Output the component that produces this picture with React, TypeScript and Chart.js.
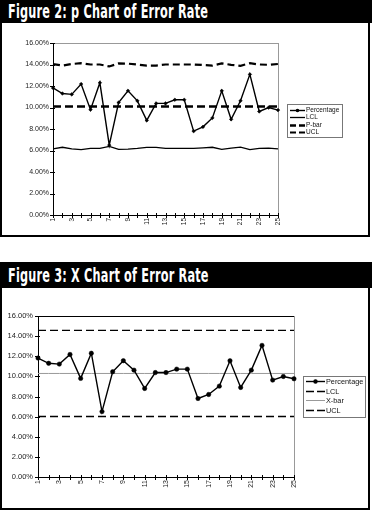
import React, { useEffect, useRef } from "react";
import { Chart, registerables } from "chart.js";
Chart.register(...registerables);

// ---------- data ----------
const samples = ["1","2","3","4","5","6","7","8","9","10","11","12","13","14","15","16","17","18","19","20","21","22","23","24","25"];
const yTickValues = [0, 2, 4, 6, 8, 10, 12, 14, 16];

const percentage = [11.82, 11.3, 11.22, 12.18, 9.8, 12.3, 6.5, 10.46, 11.56, 10.62, 8.8, 10.38, 10.38, 10.72, 10.72, 7.8, 8.2, 9.03, 11.55, 8.9, 10.62, 13.08, 9.63, 9.99, 9.76];

// Figure 2 (p chart)
const pLCL = [6.16, 6.3, 6.15, 6.08, 6.2, 6.2, 6.38, 6.1, 6.12, 6.2, 6.3, 6.3, 6.2, 6.2, 6.2, 6.2, 6.25, 6.3, 6.1, 6.23, 6.32, 6.08, 6.2, 6.23, 6.15];
const pBar = [10.1, 10.1, 10.1, 10.1, 10.1, 10.1, 10.1, 10.1, 10.1, 10.1, 10.1, 10.1, 10.1, 10.1, 10.1, 10.1, 10.1, 10.1, 10.1, 10.1, 10.1, 10.1, 10.1, 10.1, 10.1];
const pUCL = [14.04, 13.9, 14.05, 14.12, 14.0, 14.0, 13.82, 14.1, 14.08, 14.0, 13.9, 13.9, 14.0, 14.0, 14.0, 14.0, 13.95, 13.9, 14.1, 13.97, 13.88, 14.12, 14.0, 13.97, 14.05];

// Figure 3 (X chart)
const xLCL = [6.01, 6.01, 6.01, 6.01, 6.01, 6.01, 6.01, 6.01, 6.01, 6.01, 6.01, 6.01, 6.01, 6.01, 6.01, 6.01, 6.01, 6.01, 6.01, 6.01, 6.01, 6.01, 6.01, 6.01, 6.01];
const xBar = [10.29, 10.29, 10.29, 10.29, 10.29, 10.29, 10.29, 10.29, 10.29, 10.29, 10.29, 10.29, 10.29, 10.29, 10.29, 10.29, 10.29, 10.29, 10.29, 10.29, 10.29, 10.29, 10.29, 10.29, 10.29];
const xUCL = [14.57, 14.57, 14.57, 14.57, 14.57, 14.57, 14.57, 14.57, 14.57, 14.57, 14.57, 14.57, 14.57, 14.57, 14.57, 14.57, 14.57, 14.57, 14.57, 14.57, 14.57, 14.57, 14.57, 14.57, 14.57];

const FONT = "'Liberation Sans', Arial, sans-serif";

// ---------- plugins ----------
const crossTicks = {
  id: "crossTicks",
  afterDraw(chart: any) {
    const { ctx, chartArea: a, scales } = chart;
    const x = scales.x, y = scales.y;
    ctx.save();
    ctx.strokeStyle = "#000";
    ctx.lineWidth = 1;
    ctx.beginPath();
    for (let i = 0; i < x.ticks.length; i++) {
      const px = Math.round(x.getPixelForTick(i)) + 0.5;
      ctx.moveTo(px, a.bottom - 2);
      ctx.lineTo(px, a.bottom + 3);
    }
    for (let i = 0; i < y.ticks.length; i++) {
      const py = Math.round(y.getPixelForTick(i)) + 0.5;
      ctx.moveTo(a.left - 3, py);
      ctx.lineTo(a.left + 2, py);
    }
    ctx.stroke();
    ctx.restore();
  },
};

const frame = {
  id: "frame",
  beforeDatasetsDraw(chart: any, _args: any, opts: any) {
    const { ctx, chartArea: a } = chart;
    ctx.save();
    ctx.lineWidth = 1;
    ctx.strokeStyle = opts.topColor;
    ctx.beginPath();
    ctx.moveTo(a.left, Math.round(a.top) + 0.5);
    ctx.lineTo(a.right, Math.round(a.top) + 0.5);
    ctx.stroke();
    ctx.strokeStyle = opts.rightColor;
    ctx.beginPath();
    ctx.moveTo(Math.round(a.right) + 0.5, a.top);
    ctx.lineTo(Math.round(a.right) + 0.5, a.bottom);
    ctx.stroke();
    ctx.restore();
  },
};

const boxLegend = {
  id: "boxLegend",
  afterDraw(chart: any, _args: any, o: any) {
    const { ctx } = chart;
    ctx.save();
    ctx.fillStyle = "#fff";
    ctx.fillRect(o.x, o.y, o.w, o.h);
    ctx.strokeStyle = "#777";
    ctx.lineWidth = 1;
    ctx.strokeRect(o.x + 0.5, o.y + 0.5, o.w, o.h);
    ctx.font = `${o.fontSize}px ${FONT}`;
    ctx.textBaseline = "middle";
    ctx.textAlign = "left";
    chart.data.datasets.forEach((ds: any, i: number) => {
      const ry = Math.round(o.firstRow + i * o.rowH) + 0.5;
      ctx.save();
      ctx.strokeStyle = ds.borderColor;
      ctx.lineWidth = ds.borderWidth;
      ctx.setLineDash(ds.legendDash || ds.borderDash || []);
      ctx.beginPath();
      ctx.moveTo(o.sampleX, ry);
      ctx.lineTo(o.sampleX + o.sampleW, ry);
      ctx.stroke();
      ctx.restore();
      if (ds.pointRadius > 0) {
        const cx = o.sampleX + o.sampleW / 2;
        ctx.fillStyle = ds.pointBackgroundColor;
        ctx.beginPath();
        ctx.arc(cx, ry, ds.pointRadius, 0, Math.PI * 2);
        ctx.fill();
      }
      ctx.fillStyle = "#111";
      ctx.fillText(ds.label, o.textX, ry);
    });
    ctx.restore();
  },
};

// ---------- config builders ----------
function baseScales(yWidth: number, xHeight: number, yPad: number, fontSize: number) {
  return {
    x: {
      type: "category" as const,
      offset: false,
      afterFit(s: any) { s.height = xHeight; },
      grid: { display: false, drawTicks: false },
      border: { display: true, color: "#000", width: 1 },
      ticks: {
        autoSkip: false,
        maxRotation: 90,
        minRotation: 90,
        padding: 3,
        color: "#222",
        font: { family: FONT, size: fontSize - 0.5 },
        callback: (_v: any, i: number) => (i % 2 === 0 ? samples[i] : ""),
      },
    },
    y: {
      min: 0,
      max: 16,
      afterFit(s: any) { s.width = yWidth; },
      afterBuildTicks(s: any) { s.ticks = yTickValues.map((v) => ({ value: v })); },
      grid: { display: false, drawTicks: false },
      border: { display: true, color: "#000", width: 1 },
      ticks: {
        padding: yPad,
        color: "#222",
        font: { family: FONT, size: fontSize },
        callback: (v: any) => Number(v).toFixed(2) + "%",
      },
    },
  };
}

function pChartConfig(): any {
  return {
    type: "line",
    data: {
      labels: samples,
      datasets: [
        { label: "Percentage", data: percentage, borderColor: "#000", borderWidth: 1.4, pointRadius: 1.8, pointStyle: "rectRot", pointBackgroundColor: "#000", pointBorderColor: "#000", pointBorderWidth: 0.5, tension: 0 },
        { label: "LCL", data: pLCL, borderColor: "#000", borderWidth: 1.3, pointRadius: 0, tension: 0 },
        { label: "P-bar", data: pBar, borderColor: "#000", borderWidth: 2.6, borderDash: [8, 4], legendDash: [6, 3], pointRadius: 0, tension: 0 },
        { label: "UCL", data: pUCL, borderColor: "#000", borderWidth: 2.2, borderDash: [7, 4], legendDash: [6, 3], pointRadius: 0, tension: 0 },
      ],
    },
    options: {
      animation: false,
      responsive: false,
      layout: { padding: { left: 0, top: 20, right: 92, bottom: 0 } },
      scales: baseScales(53, 22, 4, 7),
      plugins: {
        legend: { display: false },
        tooltip: { enabled: false },
        frame: { topColor: "#999", rightColor: "#999" },
        boxLegend: { x: 287, y: 81, w: 55, h: 33, firstRow: 87, rowH: 7.3, sampleX: 290, sampleW: 15, textX: 306, fontSize: 6.5 },
      },
    },
    plugins: [frame, crossTicks, boxLegend],
  };
}

function xChartConfig(): any {
  return {
    type: "line",
    data: {
      labels: samples,
      datasets: [
        { label: "Percentage", data: percentage, borderColor: "#000", borderWidth: 1.4, pointRadius: 2.2, pointStyle: "circle", pointBackgroundColor: "#000", pointBorderColor: "#000", pointBorderWidth: 0.5, tension: 0 },
        { label: "LCL", data: xLCL, borderColor: "#000", borderWidth: 1.3, borderDash: [8, 4], legendDash: [8, 3], pointRadius: 0, tension: 0 },
        { label: "X-bar", data: xBar, borderColor: "#999", borderWidth: 1, pointRadius: 0, tension: 0 },
        { label: "UCL", data: xUCL, borderColor: "#000", borderWidth: 1.3, borderDash: [8, 4], legendDash: [8, 3], pointRadius: 0, tension: 0 },
      ],
    },
    options: {
      animation: false,
      responsive: false,
      layout: { padding: { left: 0, top: 28, right: 76, bottom: 0 } },
      scales: baseScales(38, 33, 5, 7.5),
      plugins: {
        legend: { display: false },
        tooltip: { enabled: false },
        frame: { topColor: "#000", rightColor: "#999" },
        boxLegend: { x: 303, y: 88, w: 62, h: 41, firstRow: 93, rowH: 9.7, sampleX: 306, sampleW: 19, textX: 326, fontSize: 7.3 },
      },
    },
    plugins: [frame, crossTicks, boxLegend],
  };
}

// ---------- components ----------
function ChartCanvas({ width, height, make }: { width: number; height: number; make: () => any }) {
  const ref = useRef<HTMLCanvasElement | null>(null);
  useEffect(() => {
    if (!ref.current) return;
    const chart = new Chart(ref.current, make());
    return () => chart.destroy();
  }, []);
  return <canvas ref={ref} width={width} height={height} style={{ position: "absolute", left: 0, top: 0, width, height }} />;
}

function TitleBar({ top, height, text }: { top: number; height: number; text: string }) {
  return (
    <div style={{ position: "absolute", left: 0, top, width: 372, height, background: "#000", overflow: "hidden" }}>
      <div
        style={{
          position: "absolute",
          left: 8,
          top: 0,
          height,
          lineHeight: height + "px",
          color: "#fff",
          fontFamily: "'DejaVu Sans Condensed', 'DejaVu Sans', sans-serif",
          fontWeight: 700,
          fontSize: 19,
          letterSpacing: 0.3,
          whiteSpace: "nowrap",
          transform: "scaleX(0.66)",
          transformOrigin: "left center",
        }}
      >
        {text}
      </div>
    </div>
  );
}

function Panel({ top, height, make }: { top: number; height: number; make: () => any }) {
  return (
    <div style={{ position: "absolute", left: 0, top, width: 370, height }}>
      <div style={{ position: "absolute", left: 0, top: 0, width: 370, height, boxSizing: "border-box", borderLeft: "2px solid #000", borderRight: "2px solid #000", borderBottom: "2px solid #000" }} />
      <ChartCanvas width={370} height={height} make={make} />
    </div>
  );
}

export default function App() {
  return (
    <div style={{ position: "fixed", left: 0, top: 0, width: 372, height: 511, background: "#fff", overflow: "hidden" }}>
      <TitleBar top={0} height={23} text="Figure 2: p Chart of Error Rate" />
      <Panel top={23} height={214} make={pChartConfig} />
      <TitleBar top={262} height={26} text="Figure 3: X Chart of Error Rate" />
      <Panel top={288} height={222} make={xChartConfig} />
    </div>
  );
}
